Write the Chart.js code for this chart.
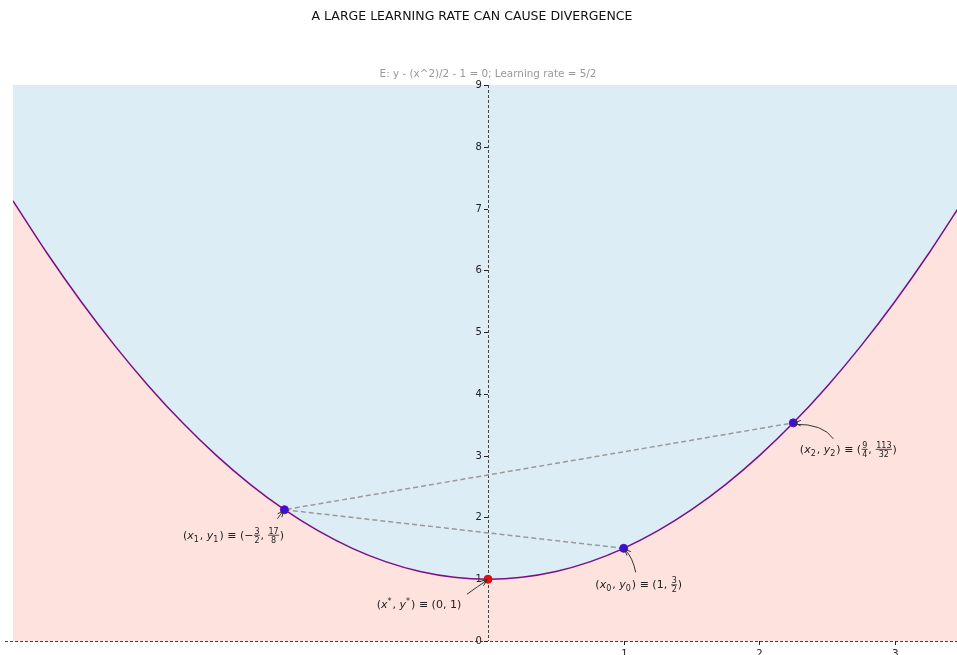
<!DOCTYPE html>
<html>
<head>
<meta charset="utf-8">
<script src="https://cdn.jsdelivr.net/npm/chart.js@4.4.0/dist/chart.umd.min.js"></script>
<style>
  html, body { margin: 0; padding: 0; background: #fff; overflow: hidden; }
  #wrap { width: 957px; height: 655px; }
  canvas { display: block; }
</style>
</head>
<body>
<div id="wrap"><canvas id="myChart" width="957" height="655"></canvas></div>
<script>
// parabola E: y = x^2/2 + 1, sampled values
const curveX = [-3.5, -3.25, -3, -2.75, -2.5, -2.25, -2, -1.75, -1.5, -1.25, -1, -0.75, -0.5, -0.25,
                0, 0.25, 0.5, 0.75, 1, 1.25, 1.5, 1.75, 2, 2.25, 2.5, 2.75, 3, 3.25, 3.5]
const curveY = [7.125, 6.28125, 5.5, 4.78125, 4.125, 3.53125, 3, 2.53125, 2.125, 1.78125, 1.5, 1.28125, 1.125, 1.03125,
                1, 1.03125, 1.125, 1.28125, 1.5, 1.78125, 2.125, 2.53125, 3, 3.53125, 4.125, 4.78125, 5.5, 6.28125, 7.125]

// gradient descent iterates
const iterX = [1, -1.5, 2.25]
const iterY = [1.5, 2.125, 3.53125]

// optimum
const optX = [0]
const optY = [1]

const xTicks = [1, 2, 3]
const yTicks = [0, 1, 2, 3, 4, 5, 6, 7, 8, 9]

const titleText = 'A LARGE LEARNING RATE CAN CAUSE DIVERGENCE'
const subTitleText = 'E: y - (x^2)/2 - 1 = 0; Learning rate = 5/2'

// label tokens: t = text, i = italic, sub, sup, frac
const labels = [
  { px: 1, py: 1.5, dx: 15, dy: 36, ax: 12, ay: 24, cx: 9, cy: 9,
    tok: [{t:'('}, {t:'x', i:1}, {sub:'0'}, {t:', '}, {t:'y', i:1}, {sub:'0'}, {t:')'}, {t:' ≡ ('}, {t:'1, '}, {frac:['3','2']}, {t:')'}] },
  { px: -1.5, py: 2.125, dx: -51, dy: 25, ax: -7, ay: 9, cx: -4, cy: 5,
    tok: [{t:'('}, {t:'x', i:1}, {sub:'1'}, {t:', '}, {t:'y', i:1}, {sub:'1'}, {t:')'}, {t:' ≡ ('}, {t:'−'}, {frac:['3','2']}, {t:', '}, {frac:['17','8']}, {t:')'}] },
  { px: 2.25, py: 3.53125, dx: 55, dy: 26, ax: 40, ay: 16, cx: 30, cy: 1,
    tok: [{t:'('}, {t:'x', i:1}, {sub:'2'}, {t:', '}, {t:'y', i:1}, {sub:'2'}, {t:')'}, {t:' ≡ ('}, {frac:['9','4']}, {t:', '}, {frac:['113','32']}, {t:')'}] },
  { px: 0, py: 1, dx: -69, dy: 25, ax: -21, ay: 15, cx: -10, cy: 7,
    tok: [{t:'('}, {t:'x', i:1}, {sup:'*'}, {t:', '}, {t:'y', i:1}, {sup:'*'}, {t:')'}, {t:' ≡ (0, 1)'}] }
]

const FONT = 'DejaVu Sans'

function tokWidth(ctx, k) {
  if (k.t !== undefined) {
    ctx.font = (k.i ? 'italic ' : '') + '11px ' + FONT
    return ctx.measureText(k.t).width
  }
  ctx.font = '8px ' + FONT
  if (k.sub) return ctx.measureText(k.sub).width + 1
  if (k.sup) return ctx.measureText(k.sup).width + 1
  return Math.max(ctx.measureText(k.frac[0]).width, ctx.measureText(k.frac[1]).width) + 2
}

function drawMath(ctx, tok, cx, cy) {
  let total = 0
  tok.forEach(k => total += tokWidth(ctx, k))
  let x = cx - total / 2
  const base = cy + 4
  ctx.fillStyle = '#222'
  ctx.textBaseline = 'alphabetic'
  ctx.textAlign = 'left'
  tok.forEach(k => {
    const w = tokWidth(ctx, k)
    if (k.t !== undefined) {
      ctx.font = (k.i ? 'italic ' : '') + '11px ' + FONT
      ctx.fillText(k.t, x, base)
    } else if (k.sub) {
      ctx.font = '8px ' + FONT
      ctx.fillText(k.sub, x, base + 3)
    } else if (k.sup) {
      ctx.font = '8px ' + FONT
      ctx.fillText(k.sup, x, base - 4)
    } else {
      ctx.font = '8px ' + FONT
      ctx.textAlign = 'center'
      ctx.fillText(k.frac[0], x + w / 2, cy - 1)
      ctx.fillText(k.frac[1], x + w / 2, cy + 8)
      ctx.textAlign = 'left'
      ctx.strokeStyle = '#222'
      ctx.lineWidth = 0.8
      ctx.beginPath()
      ctx.moveTo(x + 0.5, cy + 0.5)
      ctx.lineTo(x + w - 0.5, cy + 0.5)
      ctx.stroke()
    }
    x += w
  })
}

function drawAxes(chart) {
  const ctx = chart.ctx
  const xs = chart.scales.x, ys = chart.scales.y
  const x0 = xs.getPixelForValue(0), y0 = ys.getPixelForValue(0)
  const top = ys.getPixelForValue(9)
  ctx.save()
  ctx.strokeStyle = '#444'
  ctx.lineWidth = 1
  ctx.setLineDash([3, 2])
  ctx.beginPath()
  ctx.moveTo(Math.round(x0) + 0.5, top)
  ctx.lineTo(Math.round(x0) + 0.5, y0)
  ctx.moveTo(5, Math.round(y0) + 0.5)
  ctx.lineTo(chart.width, Math.round(y0) + 0.5)
  ctx.stroke()
  ctx.setLineDash([])
  ctx.strokeStyle = '#222'
  ctx.fillStyle = '#222'
  ctx.font = '10px ' + FONT
  ctx.textAlign = 'right'
  ctx.textBaseline = 'middle'
  yTicks.forEach(v => {
    const py = Math.round(ys.getPixelForValue(v)) + 0.5
    ctx.beginPath(); ctx.moveTo(x0 - 4, py); ctx.lineTo(x0, py); ctx.stroke()
    ctx.fillText(String(v), x0 - 6, py)
  })
  ctx.textAlign = 'center'
  ctx.textBaseline = 'top'
  xTicks.forEach(v => {
    const px = Math.round(xs.getPixelForValue(v)) + 0.5
    ctx.beginPath(); ctx.moveTo(px, y0); ctx.lineTo(px, y0 + 4); ctx.stroke()
    ctx.fillText(String(v), px, y0 + 8)
  })
  ctx.restore()
}

const decoPlugin = {
  id: 'deco',
  afterDatasetDraw(chart, args) {
    // axes go on top of the two fills, under the lines and points
    if (args.index === 1) drawAxes(chart)
  },
  afterDraw(chart) {
    const ctx = chart.ctx
    const xs = chart.scales.x, ys = chart.scales.y
    ctx.save()
    ctx.textAlign = 'center'
    ctx.textBaseline = 'middle'
    ctx.fillStyle = '#111'
    ctx.font = '12.5px ' + FONT
    ctx.fillText(titleText, 472, 17)
    ctx.fillStyle = '#999'
    ctx.font = '10.4px ' + FONT
    ctx.fillText(subTitleText, 488, 74)

    labels.forEach(l => {
      const px = xs.getPixelForValue(l.px), py = ys.getPixelForValue(l.py)
      drawMath(ctx, l.tok, px + l.dx, py + l.dy)
      // arrow from label to point
      const sx = px + l.ax, sy = py + l.ay
      const qx = px + l.cx, qy = py + l.cy
      ctx.strokeStyle = '#333'
      ctx.lineWidth = 1
      ctx.beginPath()
      ctx.moveTo(sx, sy)
      ctx.quadraticCurveTo(qx, qy, px + 2 * Math.sign(qx - px) * 0.7, py + 2 * Math.sign(qy - py) * 0.7)
      ctx.stroke()
      const ang = Math.atan2(py - qy, px - qx)
      const hx = px - Math.cos(ang) * 1, hy = py - Math.sin(ang) * 1
      ctx.beginPath()
      ctx.moveTo(hx - Math.cos(ang - 0.4) * 7, hy - Math.sin(ang - 0.4) * 7)
      ctx.lineTo(hx, hy)
      ctx.lineTo(hx - Math.cos(ang + 0.4) * 7, hy - Math.sin(ang + 0.4) * 7)
      ctx.stroke()
    })
    ctx.restore()
  }
}

const curve = curveX.map((x, i) => ({ x: x, y: curveY[i] }))
const iters = iterX.map((x, i) => ({ x: x, y: iterY[i] }))
const opt = optX.map((x, i) => ({ x: x, y: optY[i] }))

new Chart('myChart', {
  type: 'scatter',
  data: {
    datasets: [
      { data: curve, showLine: true, fill: 'end', backgroundColor: '#ddedf5', borderWidth: 0, pointRadius: 0, cubicInterpolationMode: 'monotone', order: 5 },
      { data: curve, showLine: true, fill: 'start', backgroundColor: '#fde2de', borderWidth: 0, pointRadius: 0, cubicInterpolationMode: 'monotone', order: 4 },
      { data: iters, showLine: true, borderColor: '#9a9a9a', borderWidth: 1.5, borderDash: [5, 3], pointRadius: 0, order: 3 },
      { data: curve, showLine: true, borderColor: '#7a1080', borderWidth: 1.5, pointRadius: 0, cubicInterpolationMode: 'monotone', order: 2 },
      { data: iters, showLine: false, pointRadius: 4, backgroundColor: '#3a10e0', borderColor: '#5a10b0', borderWidth: 1, order: 1 },
      { data: opt, showLine: false, pointRadius: 4, backgroundColor: '#ee0a0a', borderColor: '#c01020', borderWidth: 1, order: 0 }
    ]
  },
  options: {
    responsive: false,
    animation: false,
    layout: { autoPadding: false, padding: { left: 13, right: 0, top: 85, bottom: 14 } },
    plugins: { legend: { display: false }, tooltip: { enabled: false }, title: { display: false } },
    scales: {
      x: { type: 'linear', min: -3.5, max: 3.456, display: false },
      y: { type: 'linear', min: 0, max: 9, display: false }
    }
  },
  plugins: [decoPlugin]
});
</script>
</body>
</html>
